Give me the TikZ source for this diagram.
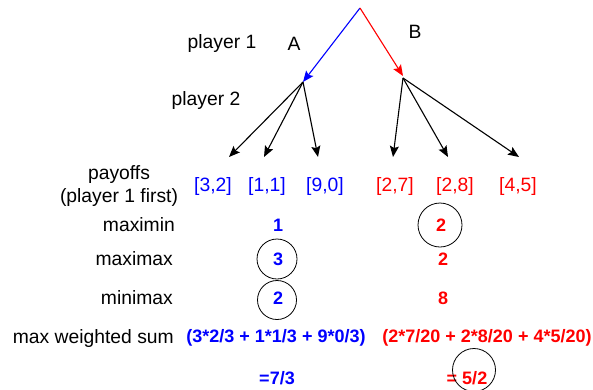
\documentclass[tikz,border=0pt]{standalone}
\usepackage{fontspec}
\setmainfont{Liberation Sans}
\usetikzlibrary{arrows.meta}
\begin{document}
\begin{tikzpicture}[x=1pt,y=-1pt,
  txt/.style={font=\fontsize{19.3}{23}\selectfont, inner sep=0pt},
  val/.style={font=\fontsize{18}{22}\selectfont\bfseries, inner sep=0pt},
  lab/.style={txt, anchor=east},
  edge/.style={line width=1.1pt, -{Stealth[length=11pt,width=9pt,inset=2pt]}},
  ring/.style={draw, circle, line width=0.8pt, inner sep=0pt}]
\useasboundingbox (0,0) rectangle (593,389);
% tree
\coordinate (root) at (360,8);
\coordinate (A) at (303,82);
\coordinate (B) at (403,76);
\coordinate (Bs) at (403,78);
\coordinate (a1) at (229,157);
\coordinate (a2) at (264,157);
\coordinate (a3) at (318,157);
\coordinate (b1) at (393,157);
\coordinate (b2) at (448,157);
\coordinate (b3) at (519,157);
\draw[edge, blue] (root) -- (A);
\draw[edge, red] (root) -- (B);
\foreach \t in {a1,a2,a3} \draw[edge] (A) -- (\t);
\foreach \t in {b1,b2,b3} \draw[edge] (Bs) -- (\t);
% labels
\node[txt] (p1) at (222,44) {player 1};
\node[txt] (lA) at (294,44) {A};
\node[txt] (lB) at (415,32) {B};
\node[txt] (p2) at (206,101) {player 2};
\node[txt, align=center] (pay) at (119,186) {payoffs\\(player 1 first)};
\node[lab] (mmin) at (175,225) {maximin};
\node[lab] (mmax) at (173,259) {maximax};
\node[lab] (mnmx) at (173,298) {minimax};
\node[lab] (mws) at (174,338) {max weighted sum};
% payoffs
\node[txt, blue] (pa1) at (213,187) {[3,2]};
\node[txt, blue] (pa2) at (267,187) {[1,1]};
\node[txt, blue] (pa3) at (325,187) {[9,0]};
\node[txt, red] (pb1) at (395,187) {[2,7]};
\node[txt, red] (pb2) at (455,187) {[2,8]};
\node[txt, red] (pb3) at (518,187) {[4,5]};
% values A
\node[val, blue] (amin) at (278,225) {1};
\node[val, blue] (amax) at (278,259) {3};
\node[val, blue] (amnx) at (278,298) {2};
\node[ring, minimum size=40pt] (c1) at (277,259) {};
\node[ring, minimum size=39pt] (c2) at (277,300) {};
\node[val, blue] (aws) at (276,338) {(3*2/3 + 1*1/3 + 9*0/3)};
\node[val, blue] (ares) at (277,378) {=7/3};
% values B
\node[val, red] (bmin) at (441,225) {2};
\node[val, red] (bmax) at (443,259) {2};
\node[val, red] (bmnx) at (443,298) {8};
\node[ring, minimum size=44pt] (c3) at (440,225) {};
\node[val, red] (bws) at (487,338) {(2*7/20 + 2*8/20 + 4*5/20)};
\node[val, red] (bres) at (467,378) {= 5/2};
\node[ring, minimum size=43pt] (c4) at (474,370) {};
\end{tikzpicture}
\end{document}
